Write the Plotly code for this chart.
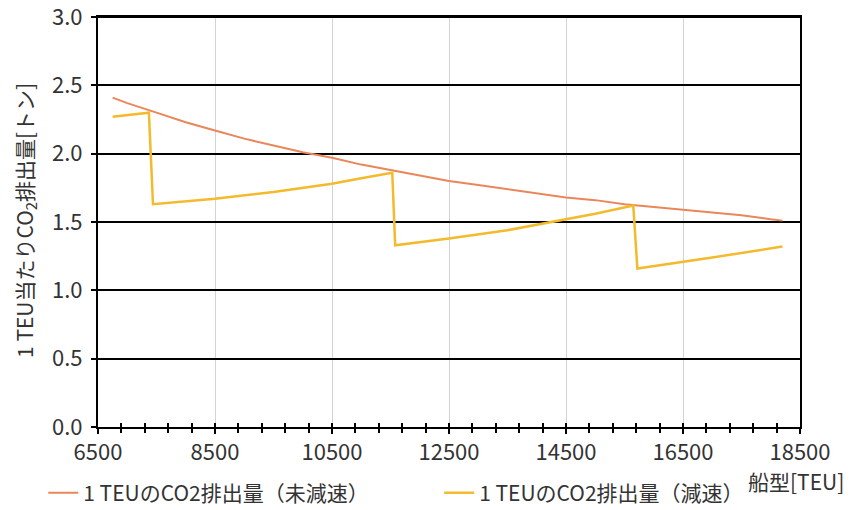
import plotly.graph_objects as go

# Ship size [TEU]
orange_x = [6750, 7000, 7500, 8000, 8500, 9000, 9500, 10000, 10500, 11000, 11500,
            12000, 12500, 13000, 13500, 14000, 14500, 15000, 15500, 16000, 16500,
            17000, 17500, 18000, 18200]
# CO2 per TEU, no slow steaming
orange_y = [2.41, 2.37, 2.30, 2.23, 2.17, 2.11, 2.06, 2.01, 1.97, 1.92, 1.88,
            1.84, 1.80, 1.77, 1.74, 1.71, 1.68, 1.66, 1.63, 1.61, 1.59,
            1.57, 1.55, 1.52, 1.51]

yellow_x = [6750, 7370, 7440, 8500, 9500, 10500, 11000, 11530, 11580, 12500,
            13500, 14500, 15000, 15650, 15720, 17000, 18200]
# CO2 per TEU, slow steaming
yellow_y = [2.27, 2.30, 1.63, 1.67, 1.72, 1.78, 1.82, 1.86, 1.33, 1.38,
            1.44, 1.52, 1.56, 1.62, 1.16, 1.24, 1.32]

name_orange = "1 TEUのCO2排出量（未減速）"
name_yellow = "1 TEUのCO2排出量（減速）"
y_title = "1 TEU当たりCO<sub>2</sub>排出量[トン]"
x_title = "船型[TEU]"

FONT = "Noto Sans CJK JP, sans-serif"
TXT = "#333333"

fig = go.Figure()
fig.add_trace(go.Scatter(x=orange_x, y=orange_y, mode="lines", name=name_orange,
                         line=dict(color="#E9875A", width=2), legend="legend"))
fig.add_trace(go.Scatter(x=yellow_x, y=yellow_y, mode="lines", name=name_yellow,
                         line=dict(color="#F3BA2C", width=2.5), legend="legend2"))
# dummy trace to render crossing tick marks on overlay axis
fig.add_trace(go.Scatter(x=[None], y=[None], xaxis="x2", showlegend=False, hoverinfo="skip"))

leg_common = dict(orientation="h", xanchor="left", yanchor="middle",
                  font=dict(size=21, color=TXT), bgcolor="rgba(0,0,0,0)")

fig.update_layout(
    width=843, height=502,
    margin=dict(l=90, r=51, t=9, b=83, autoexpand=False),
    paper_bgcolor="white", plot_bgcolor="white",
    font=dict(family=FONT, size=21, color=TXT),
    xaxis=dict(range=[6500, 18500], tick0=6500, dtick=2000, tickformat="d",
               showgrid=True, gridcolor="#d4d4d4", gridwidth=1,
               showline=True, linecolor="black", linewidth=2, mirror=True,
               ticks="outside", ticklen=5, tickwidth=2, tickcolor="black",
               minor=dict(dtick=400, tick0=6500, ticks="outside", ticklen=4,
                          tickwidth=2, tickcolor="black", showgrid=False),
               zeroline=False, automargin=False, ticklabeloverflow="allow",
               tickfont=dict(size=22, color=TXT)),
    xaxis2=dict(overlaying="x", matches="x", anchor="y", range=[6500, 18500],
                tick0=6500, dtick=400, ticks="inside", ticklen=4, tickwidth=2,
                tickcolor="black", showticklabels=False, showgrid=False,
                showline=False, zeroline=False),
    yaxis=dict(range=[0, 3.0], dtick=0.5, tickformat=".1f",
               showgrid=True, gridcolor="black", gridwidth=2,
               showline=True, linecolor="black", linewidth=2, mirror=True,
               ticks="outside", ticklen=5, tickwidth=2, tickcolor="black",
               zeroline=False, automargin=False, ticklabeloverflow="allow",
               ticklabelstandoff=4, tickfont=dict(size=22, color=TXT)),
    legend=dict(x=-0.078, y=-0.161, **leg_common),
    legend2=dict(x=0.486, y=-0.161, **leg_common),
    showlegend=True,
    shapes=[dict(type="line", xref="paper", yref="paper", x0=0, x1=1, y0=1, y1=1,
                 line=dict(color="black", width=2), layer="above")],
)

fig.add_annotation(text=y_title, xref="paper", yref="paper",
                   x=-0.104, y=0.505, xanchor="center", yanchor="middle",
                   textangle=-90, showarrow=False, font=dict(size=21, color=TXT))
fig.add_annotation(text=x_title, xref="paper", yref="paper",
                   x=1.066, y=-0.132, xanchor="right", yanchor="middle",
                   showarrow=False, font=dict(size=21, color=TXT))

fig.write_html("out.html")
